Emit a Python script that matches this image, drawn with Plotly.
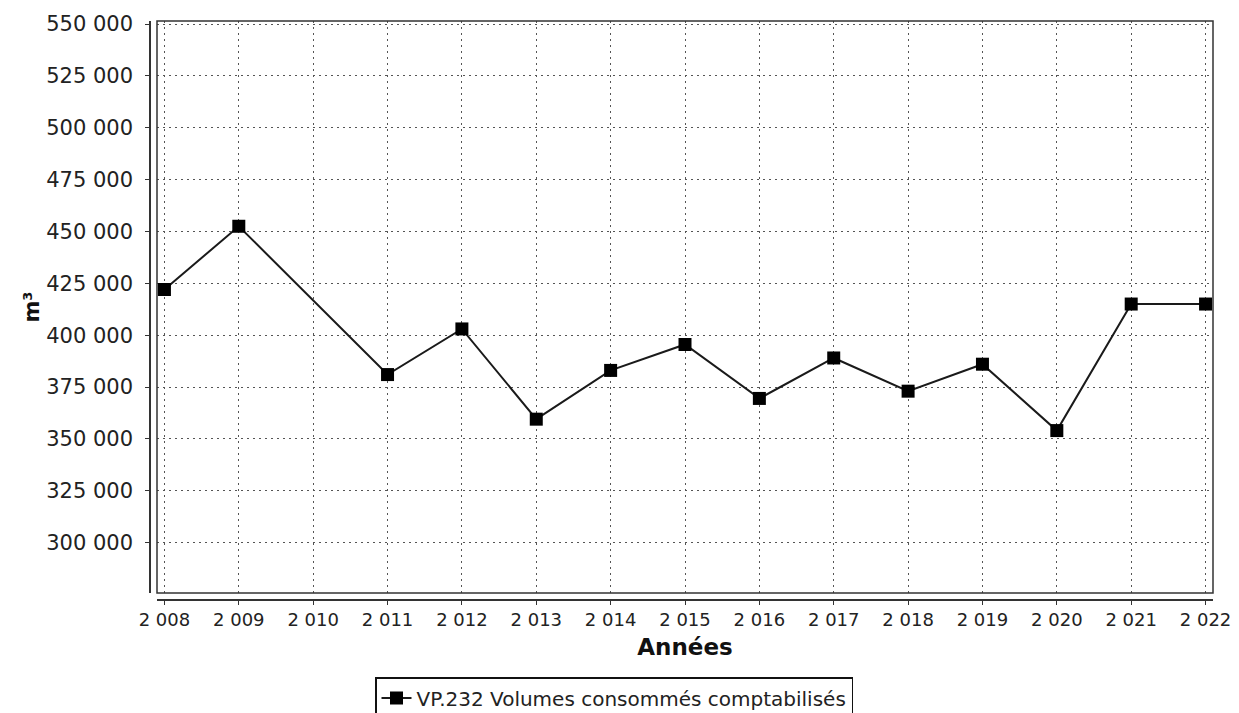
import plotly.graph_objects as go

years = [2008, 2009, 2010, 2011, 2012, 2013, 2014, 2015, 2016, 2017, 2018, 2019, 2020, 2021, 2022]
volumes = [422000, 452500, None, 381000, 403000, 359500, 383000, 395500, 369500,
           389000, 373000, 386000, 354000, 415000, 415000]
series_name = "VP.232 Volumes consommés comptabilisés"
x_title = "<b>Années</b>"
y_title = "<b>m³</b>"

# page has an 8px body margin; size the figure so it fits the 1239x713 window
OFF = 8
W, H = 1239 - OFF, 713 - OFF
ML, MR, MT, MB = 150 - OFF, 26, 21 - OFF, 113
pw = W - ML - MR
ph = H - MT - MB
gap = 7

fig = go.Figure()
fig.add_trace(go.Scatter(
    x=years, y=volumes, name=series_name, mode="lines+markers",
    connectgaps=True,
    line=dict(color="#1a1a1a", width=2),
    marker=dict(symbol="square", size=13, color="#000000"),
))

grid_color = "#555555"
fig.update_layout(
    width=W, height=H,
    margin=dict(l=ML, r=MR, t=MT, b=MB, autoexpand=False),
    paper_bgcolor="white", plot_bgcolor="white",
    separators=", ",
    font=dict(family="DejaVu Sans", color="#222222"),
    showlegend=True,
    legend=dict(
        x=(614 - OFF - ML) / pw, xanchor="center",
        y=(H - MB - (677 - OFF)) / ph, yanchor="top",
        bordercolor="#111111", borderwidth=1.5,
        font=dict(size=20, family="DejaVu Sans", color="#222222"),
        bgcolor="white", itemwidth=30,
    ),
    xaxis=dict(
        domain=[gap / pw, 1],
        anchor="free", position=0,
        automargin=False,
        range=[2007.9, 2022.1],
        tickmode="linear", tick0=2008, dtick=1,
        tickformat=",d",
        ticks="outside", ticklen=4, tickcolor="#333333",
        tickfont=dict(size=18),
        ticklabelstandoff=0,
        showline=True, linecolor="#333333", linewidth=1.5,
        showgrid=True, gridcolor=grid_color, gridwidth=1, griddash="2px,4px",
        zeroline=False,
        title=dict(text=x_title, font=dict(size=23, family="DejaVu Sans", color="#111111"), standoff=9),
    ),
    yaxis=dict(
        domain=[gap / ph, 1],
        anchor="free", position=0,
        automargin=False,
        range=[275700, 551450],
        tick0=300000, dtick=25000,
        tickformat=",d",
        ticks="outside", ticklen=4, tickcolor="#333333",
        tickfont=dict(size=21),
        showline=True, linecolor="#333333", linewidth=1.5,
        showgrid=True, gridcolor=grid_color, gridwidth=1, griddash="2px,4px",
        zeroline=False,
        ticklabelstandoff=8,
        title=dict(text=y_title, font=dict(size=21, family="DejaVu Sans", color="#111111"), standoff=0),
    ),
)

fig.add_shape(type="rect", xref="x domain", yref="y domain", x0=0, x1=1, y0=0, y1=1,
              line=dict(color="#333333", width=1.5), fillcolor="rgba(0,0,0,0)", layer="above")

fig.write_html("out.html")
